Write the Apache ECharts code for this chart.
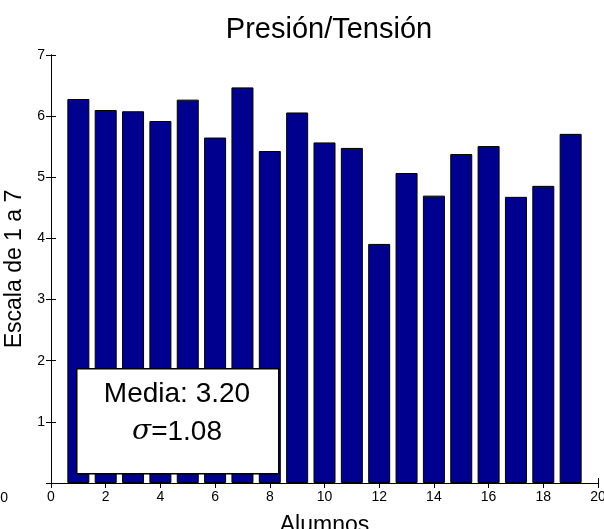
<!DOCTYPE html>
<html>
<head>
<meta charset="utf-8">
<script src="https://cdn.jsdelivr.net/npm/echarts@6/dist/echarts.min.js"></script>
<style>html,body{margin:0;padding:0;background:#fff;}#c{width:604px;height:529px;}</style>
</head>
<body>
<div id="c"></div>
<script>
var titleText = 'Presión/Tensión';
var xName = 'Alumnos';
var yName = 'Escala de 1 a 7';
var alumnos = [1,2,3,4,5,6,7,8,9,10,11,12,13,14,15,16,17,18,19];
var valores = [6.28,6.10,6.08,5.92,6.27,5.65,6.47,5.43,6.06,5.57,5.48,3.91,5.07,4.70,5.38,5.51,4.68,4.86,5.71];
var xRange = [0, 20, 2];
var yRange = [0, 7, 1];
var mediaText = 'Media: 3.20';
var sigmaText = '=1.08';

var font = 'Liberation Sans, Arial, sans-serif';
var chart = echarts.init(document.getElementById('c'), null, {renderer: 'canvas'});
var axLine = {show: true, lineStyle: {color: '#000', width: 1}};
var tick = {show: true, inside: true, length: 5, lineStyle: {color: '#000', width: 1}};
var lbl = {color: '#000', fontSize: 14, fontFamily: font};

chart.setOption({
  animation: false,
  backgroundColor: '#fff',
  title: {
    text: titleText, left: 324, top: 10, textAlign: 'center',
    textStyle: {fontSize: 29, fontWeight: 'normal', color: '#000', fontFamily: font}
  },
  grid: {left: 51, right: 6, top: 55, bottom: 46, containLabel: false, outerBoundsMode: 'none'},
  xAxis: [{
    type: 'value', min: xRange[0], max: xRange[1], interval: xRange[2], position: 'bottom',
    axisLine: axLine, axisTick: tick, splitLine: {show: false},
    axisLabel: Object.assign({margin: 7}, lbl),
    name: xName, nameLocation: 'middle', nameGap: 31,
    nameTextStyle: {fontSize: 23, color: '#000', fontFamily: font}
  }, {
    type: 'value', min: xRange[0], max: xRange[1], interval: xRange[2], position: 'top',
    axisLine: axLine, axisTick: tick, splitLine: {show: false}, axisLabel: {show: false}
  }],
  yAxis: [{
    type: 'value', min: yRange[0], max: yRange[1], interval: yRange[2], position: 'left',
    axisLine: axLine, axisTick: tick, splitLine: {show: false},
    axisLabel: Object.assign({margin: 6, showMinLabel: false}, lbl),
    name: yName, nameLocation: 'middle', nameGap: 23,
    nameTextStyle: {fontSize: 23, color: '#000', fontFamily: font}
  }, {
    type: 'value', min: yRange[0], max: yRange[1], interval: yRange[2], position: 'right',
    axisLine: axLine, axisTick: tick, splitLine: {show: false}, axisLabel: {show: false}
  }],
  series: [{
    type: 'bar',
    xAxisIndex: 0, yAxisIndex: 0,
    data: alumnos.map(function (a, i) { return [a, valores[i]]; }),
    barWidth: 22,
    itemStyle: {color: '#00008F', borderColor: '#000', borderWidth: 1}
  }],
  graphic: [{
    type: 'rect', left: 76, top: 368, z: 100,
    shape: {width: 202, height: 105},
    style: {fill: '#fff', stroke: '#000', lineWidth: 1.5}
  }, {
    type: 'text', x: 177, y: 394, z: 101,
    style: {text: mediaText, fontSize: 28, fontFamily: font, fill: '#000', align: 'center', verticalAlign: 'middle'}
  }, {
    type: 'text', x: 177, y: 432, z: 101,
    style: {
      text: '{s|σ}' + sigmaText, fontSize: 28, fontFamily: font, fill: '#000', align: 'center', verticalAlign: 'middle',
      rich: {s: {fontSize: 28, fontStyle: 'italic', fontFamily: 'DejaVu Serif, serif', fill: '#000'}}
    }
  }, {
    type: 'text', x: 8, y: 498, z: 101,
    style: {text: '20', fontSize: 14, fontFamily: font, fill: '#000', align: 'right', verticalAlign: 'middle'}
  }]
});
</script>
</body>
</html>
